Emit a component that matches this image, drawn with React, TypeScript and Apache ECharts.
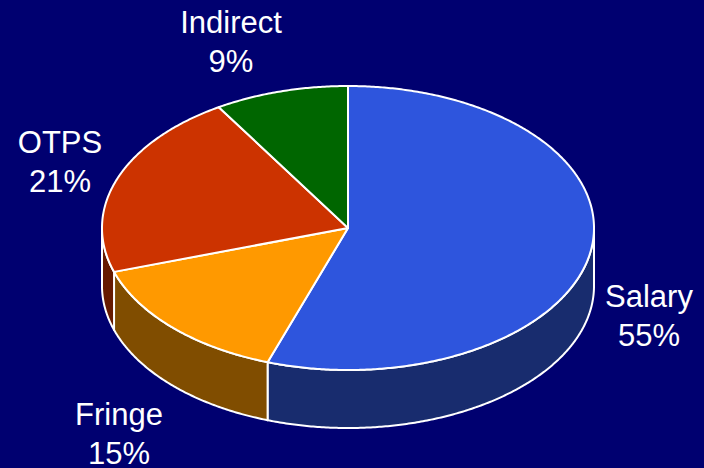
import React, { useEffect, useRef } from "react";
import * as echarts from "echarts";

const categories = ["Salary", "Fringe", "OTPS", "Indirect"];
const shares = [55.3, 14.7, 21.2, 8.8];
const topColors = ["#2E55DD", "#FF9900", "#CC3300", "#006600"];
const sideColors = ["#182C6E", "#804D00", "#661A00", "#003300"];
const labelCenters = [
  [649, 316],
  [119, 434],
  [60, 162],
  [231, 42],
];

const BG = "#000070";
const CX = 348;
const CY = 228;
const RX = 246;
const RY = 142;
const DEPTH = 58;
const TOTAL = shares.reduce((a, b) => a + b, 0);

function rimPoint(deg: number, dy = 0): number[] {
  const t = (deg * Math.PI) / 180;
  return [CX + RX * Math.sin(t), CY - RY * Math.cos(t) + dy];
}

function arcPoints(from: number, to: number, dy = 0): number[][] {
  const pts: number[][] = [];
  const steps = Math.max(2, Math.ceil(Math.abs(to - from) * 2));
  for (let i = 0; i <= steps; i++) pts.push(rimPoint(from + ((to - from) * i) / steps, dy));
  return pts;
}

export default function App() {
  const ref = useRef<HTMLDivElement>(null);

  useEffect(() => {
    document.body.style.margin = "0";
    const chart = echarts.init(ref.current!, null, { renderer: "svg" });
    const stroke = { stroke: "#FFFFFF", lineWidth: 2, lineJoin: "round" as const };

    const renderItem = (params: any, api: any) => {
      const i = params.dataIndex;
      const before = shares.slice(0, i).reduce((a, b) => a + b, 0);
      const start = (before / TOTAL) * 360;
      const end = start + (api.value(0) / TOTAL) * 360;
      const children: any[] = [];

      const sideFrom = Math.max(start, 90);
      const sideTo = Math.min(end, 270);
      if (sideTo > sideFrom) {
        children.push({
          type: "polygon",
          shape: {
            points: [...arcPoints(sideFrom, sideTo), ...arcPoints(sideTo, sideFrom, DEPTH)],
          },
          style: { fill: sideColors[i], ...stroke },
        });
      }
      children.push({
        type: "polygon",
        shape: { points: [[CX, CY], ...arcPoints(start, end)] },
        style: { fill: topColors[i], ...stroke },
      });
      children.push({
        type: "text",
        x: labelCenters[i][0],
        y: labelCenters[i][1],
        style: {
          text: `${categories[i]}\n${Math.round(shares[i])}%`,
          fill: "#FFFFFF",
          font: '31px "Liberation Sans", Arial, sans-serif',
          lineHeight: 39,
          align: "center",
          verticalAlign: "middle",
        },
      });
      return { type: "group", children };
    };

    chart.setOption({
      animation: false,
      backgroundColor: BG,
      tooltip: { show: false },
      series: [
        {
          type: "custom",
          coordinateSystem: "none",
          silent: true,
          renderItem,
          data: shares.map((v, i) => ({ name: categories[i], value: [v] })),
        },
      ],
    });
    return () => chart.dispose();
  }, []);

  return <div ref={ref} style={{ width: 704, height: 468 }} />;
}
